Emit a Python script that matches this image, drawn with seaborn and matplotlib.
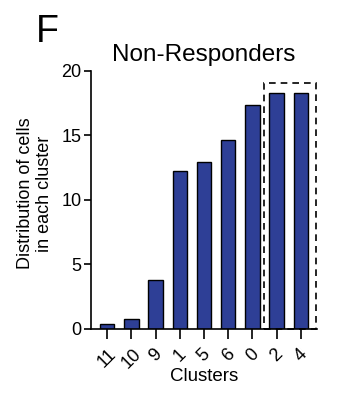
import matplotlib
matplotlib.use("Agg")
import matplotlib.pyplot as plt
import seaborn as sns
import pandas as pd
from matplotlib.patches import Rectangle

clusters = ["11", "10", "9", "1", "5", "6", "0", "2", "4"]
values = [0.39, 0.8, 3.79, 12.23, 12.9, 14.66, 17.37, 18.25, 18.3]
yticks = [0, 5, 10, 15, 20]

sns.set_style("ticks")
plt.rcParams["font.family"] = ["Liberation Sans", "DejaVu Sans"]
plt.rcParams["text.color"] = "black"
plt.rcParams["axes.labelcolor"] = "black"

df = pd.DataFrame({"Clusters": clusters, "value": values})

fig = plt.figure(figsize=(3.4, 4.03), dpi=100)
ax = fig.add_axes([0.268, 0.184, 0.664, 0.640])
sns.barplot(data=df, x="Clusters", y="value", order=clusters, color="#2E3F96",
            saturation=1, width=0.6, edgecolor="black", linewidth=1.0, ax=ax)
ax.set_xlim(-0.66, 8.66)
ax.set_ylim(0, 20)
ax.set_yticks(yticks)
ax.set_yticklabels([str(t) for t in yticks], fontsize=13)
ax.set_xticks(range(len(clusters)))
ax.set_xticklabels(clusters, rotation=45, ha="center", fontsize=13)
ax.set_xlabel("Clusters", fontsize=13.5, labelpad=-3)
ax.set_ylabel("Distribution of cells\nin each cluster", fontsize=13, labelpad=6,
              linespacing=1.15)
ax.yaxis.label.set_y(0.525)
ax.set_title("Non-Responders", fontsize=17.5, pad=7)
for s in ["top", "right"]:
    ax.spines[s].set_visible(False)
for s in ["left", "bottom"]:
    ax.spines[s].set_linewidth(1.2)
    ax.spines[s].set_color("black")
ax.tick_params(axis="y", width=1.2, length=5, color="black", labelcolor="black", pad=2)
ax.tick_params(axis="x", width=1.2, length=7, color="black", labelcolor="black", pad=5)

rect = Rectangle((6.47, 0), 8.62 - 6.47, 19.1, fill=False, linestyle=(0, (4, 3)),
                 linewidth=1.2, edgecolor="black", clip_on=False)
ax.add_patch(rect)

fig.text(0.105, 0.965, "F", fontsize=27, va="top", ha="left")
fig.savefig("out.png", dpi=100)
